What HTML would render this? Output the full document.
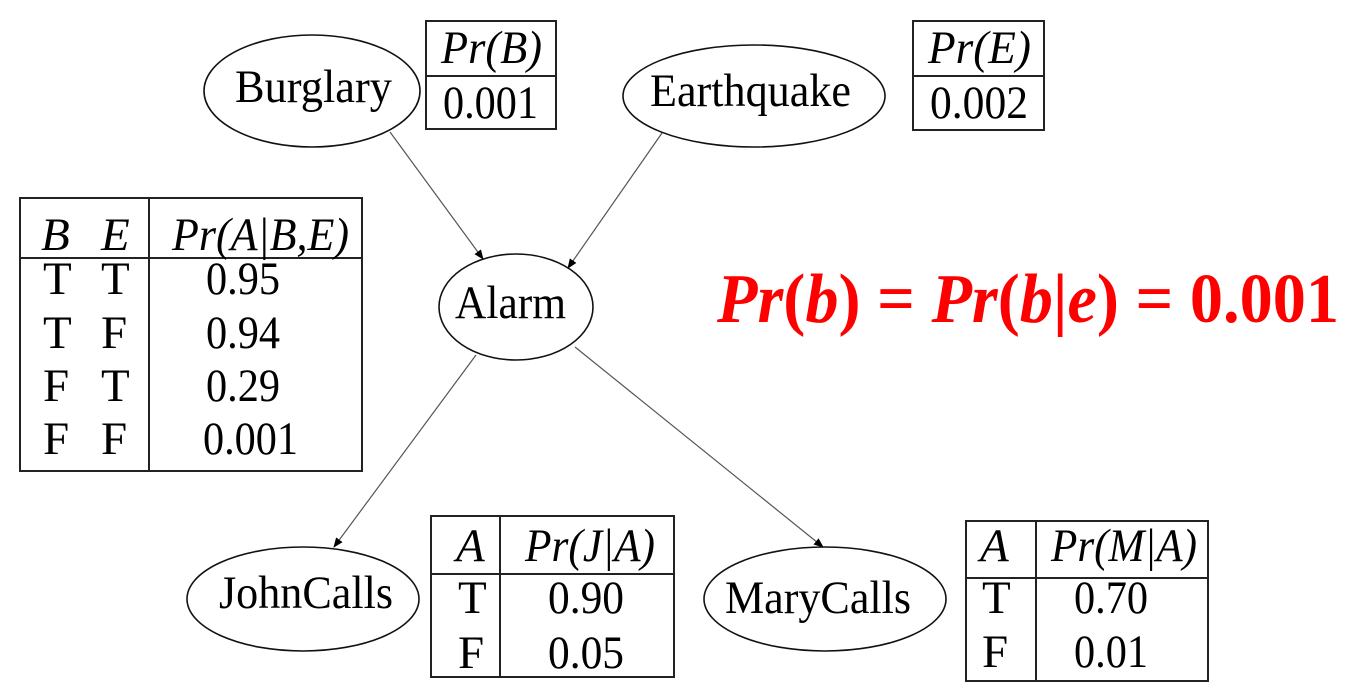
<!DOCTYPE html>
<html><head><meta charset="utf-8"><style>
html,body{margin:0;padding:0;background:#fff;width:1350px;height:692px;overflow:hidden}
svg text{font-family:"Liberation Serif","Times New Roman",serif;fill:#000}
.i{font-style:italic}
</style></head><body>
<svg width="1350" height="692" viewBox="0 0 1350 692" xmlns="http://www.w3.org/2000/svg">
<defs><marker id="ar" markerWidth="10" markerHeight="10" refX="9" refY="5" orient="auto" markerUnits="userSpaceOnUse"><path d="M0,1 L10,5 L0,9 z" fill="#000"/></marker></defs>
<g stroke="#555" stroke-width="1.2" fill="none" marker-end="url(#ar)">
<line x1="390" y1="132" x2="483" y2="259"/>
<line x1="662" y1="133" x2="568" y2="268"/>
<line x1="476" y1="355" x2="334" y2="547"/>
<line x1="575" y1="347" x2="823" y2="547"/>
</g>
<g stroke="#111" stroke-width="1.6" fill="none">
<ellipse cx="312" cy="91" rx="108" ry="56"/>
<ellipse cx="754" cy="96" rx="131" ry="51"/>
<ellipse cx="516" cy="307" rx="77" ry="53"/>
<ellipse cx="303" cy="599" rx="116" ry="52"/>
<ellipse cx="825" cy="599" rx="121" ry="52"/>
</g>
<g stroke="#222" stroke-width="2" fill="none">
<rect x="426" y="21" width="130" height="108"/><line x1="426" y1="76" x2="556" y2="76"/>
<rect x="913" y="21" width="131" height="109"/><line x1="913" y1="76" x2="1044" y2="76"/>
<rect x="20" y="198" width="342" height="273"/><line x1="20" y1="258" x2="362" y2="258"/><line x1="149" y1="198" x2="149" y2="471"/>
<rect x="431" y="516" width="243" height="161"/><line x1="431" y1="574" x2="674" y2="574"/><line x1="500" y1="516" x2="500" y2="677"/>
<rect x="966" y="521" width="242" height="160"/><line x1="966" y1="578" x2="1208" y2="578"/><line x1="1036" y1="521" x2="1036" y2="681"/>
</g>
<g font-size="47" font-family="Liberation Serif, Times New Roman, serif">
<text x="235" y="102" textLength="157" lengthAdjust="spacingAndGlyphs">Burglary</text>
<text x="650" y="106" textLength="201" lengthAdjust="spacingAndGlyphs">Earthquake</text>
<text x="455" y="318" textLength="111" lengthAdjust="spacingAndGlyphs">Alarm</text>
<text x="219" y="608" textLength="174" lengthAdjust="spacingAndGlyphs">JohnCalls</text>
<text x="725" y="613" textLength="186" lengthAdjust="spacingAndGlyphs">MaryCalls</text>

<text x="441" y="63" class="i" textLength="101" lengthAdjust="spacingAndGlyphs">Pr(B)</text>
<text x="443" y="118" textLength="95" lengthAdjust="spacingAndGlyphs">0.001</text>
<text x="928" y="63" class="i" textLength="103" lengthAdjust="spacingAndGlyphs">Pr(E)</text>
<text x="930" y="118" textLength="98" lengthAdjust="spacingAndGlyphs">0.002</text>

<text x="41" y="250" class="i">B</text><text x="101" y="250" class="i">E</text>
<text x="172" y="250" class="i" textLength="177" lengthAdjust="spacingAndGlyphs">Pr(A|B,E)</text>
<text x="43" y="294">T</text><text x="101" y="294">T</text><text x="206" y="294" textLength="74" lengthAdjust="spacingAndGlyphs">0.95</text>
<text x="43" y="348">T</text><text x="101" y="348">F</text><text x="206" y="348" textLength="74" lengthAdjust="spacingAndGlyphs">0.94</text>
<text x="43" y="401">F</text><text x="101" y="401">T</text><text x="206" y="401" textLength="74" lengthAdjust="spacingAndGlyphs">0.29</text>
<text x="43" y="454">F</text><text x="101" y="454">F</text><text x="203" y="454" textLength="95" lengthAdjust="spacingAndGlyphs">0.001</text>

<text x="456" y="561" class="i">A</text>
<text x="525" y="561" class="i" textLength="130" lengthAdjust="spacingAndGlyphs">Pr(J|A)</text>
<text x="458" y="613">T</text><text x="548" y="613" textLength="76" lengthAdjust="spacingAndGlyphs">0.90</text>
<text x="458" y="668">F</text><text x="548" y="668" textLength="76" lengthAdjust="spacingAndGlyphs">0.05</text>

<text x="980" y="561" class="i">A</text>
<text x="1051" y="561" class="i" textLength="146" lengthAdjust="spacingAndGlyphs">Pr(M|A)</text>
<text x="982" y="613">T</text><text x="1074" y="613" textLength="74" lengthAdjust="spacingAndGlyphs">0.70</text>
<text x="982" y="667">F</text><text x="1074" y="667" textLength="74" lengthAdjust="spacingAndGlyphs">0.01</text>
</g>
<text x="717" y="322" font-size="70" font-weight="bold" font-family="Liberation Serif, Times New Roman, serif" style="fill:#f00" textLength="622" lengthAdjust="spacingAndGlyphs"><tspan font-style="italic">Pr</tspan>(<tspan font-style="italic">b</tspan>) = <tspan font-style="italic">Pr</tspan>(<tspan font-style="italic">b</tspan>|<tspan font-style="italic">e</tspan>) = 0.001</text>
</svg>
</body></html>
